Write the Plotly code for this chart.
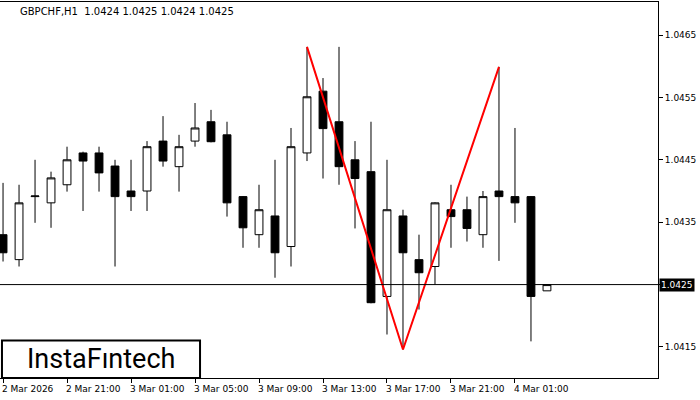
import plotly.graph_objects as go

opens  = [1.0433,1.0429,1.04391,1.04381,1.0441,1.04461,1.04461,1.0444,1.0440,1.0440,1.0448,1.04439,1.0448,1.04511,1.0449,1.04391,1.0433,1.0436,1.04311,1.04461,1.0456,1.04511,1.0445,1.04431,1.04231,1.0436,1.0429,1.04279,1.0437,1.0437,1.0433,1.0440,1.04391,1.04391,1.0424]
highs  = [1.04413,1.0441,1.0445,1.04431,1.04471,1.04463,1.04471,1.0445,1.0445,1.0448,1.0452,1.0449,1.04541,1.0453,1.04511,1.04392,1.0441,1.0445,1.04501,1.04631,1.04581,1.04631,1.0448,1.04511,1.0445,1.0437,1.0433,1.04382,1.0441,1.04391,1.0440,1.04599,1.04501,1.04392,1.0425]
lows   = [1.04287,1.04279,1.04349,1.04341,1.04399,1.04368,1.04399,1.04279,1.04368,1.04368,1.04439,1.04399,1.04471,1.04478,1.04359,1.04309,1.04309,1.04261,1.04279,1.04448,1.0442,1.0441,1.0434,1.0422,1.0417,1.04146,1.0421,1.0425,1.04309,1.04319,1.04309,1.04288,1.04349,1.04159,1.0424]
closes = [1.04301,1.04381,1.04392,1.04421,1.0445,1.04448,1.04429,1.04391,1.04391,1.04471,1.04448,1.04471,1.04501,1.04479,1.04381,1.04341,1.0437,1.04301,1.04471,1.04551,1.0450,1.04439,1.0442,1.04221,1.0437,1.04301,1.04269,1.04381,1.04359,1.0434,1.04391,1.04391,1.04381,1.04231,1.0425]

pattern_idx = [19, 25, 31]
pattern_val = [1.04631, 1.04146, 1.04599]

xtick_idx = [0, 4, 8, 12, 16, 20, 24, 28, 32]
xtick_lbl = ["2 Mar 2026","2 Mar 21:00","3 Mar 01:00","3 Mar 05:00","3 Mar 09:00",
             "3 Mar 13:00","3 Mar 17:00","3 Mar 21:00","4 Mar 01:00"]
ytick_vals = [1.0415,1.0425,1.0435,1.0445,1.0455,1.0465]
current = 1.0425

x = list(range(len(opens)))
fig = go.Figure()
fig.add_trace(go.Candlestick(x=x, open=opens, high=highs, low=lows, close=closes,
    increasing=dict(fillcolor="white", line=dict(color="black", width=1)),
    decreasing=dict(fillcolor="black", line=dict(color="black", width=1)),
    whiskerwidth=0, showlegend=False, hoverinfo="skip"))
fig.add_trace(go.Scatter(x=pattern_idx, y=pattern_val, mode="lines",
    line=dict(color="#ff0000", width=2), showlegend=False, hoverinfo="skip"))

fig.add_shape(type="line", xref="paper", yref="y", x0=0, x1=1, y0=current, y1=current,
              line=dict(color="black", width=1))

fig.update_layout(
    width=700, height=400, margin=dict(l=0, r=42, t=2, b=22, autoexpand=False),
    paper_bgcolor="white", plot_bgcolor="white",
    font=dict(family="DejaVu Sans", size=10, color="black"),
    xaxis=dict(range=[-0.19, 40.94], autorange=False, rangeslider=dict(visible=False), showgrid=False,
               zeroline=False, tickvals=xtick_idx, ticktext=[""]*len(xtick_idx),
               ticks="outside", ticklen=4, tickcolor="black", automargin=False,
               showline=True, linecolor="black", mirror=True),
    yaxis=dict(range=[1.041003, 1.047029], autorange=False, side="right", showgrid=False, zeroline=False,
               tickvals=ytick_vals,
               ticktext=["" if abs(v - current) < 1e-9 else f"{v:.4f}" for v in ytick_vals],
               ticks="outside", ticklen=4, tickcolor="black", automargin=False,
               showline=True, linecolor="black", mirror=True,
               tickfont=dict(size=9)),
)
for i, t in zip(xtick_idx, xtick_lbl):
    fig.add_annotation(x=i, y=0, xref="x", yref="paper", yanchor="top", xanchor="left",
                       text=t, showarrow=False, yshift=-4, xshift=-3, font=dict(size=9))
fig.add_annotation(x=1, y=current, xref="paper", yref="y", xanchor="left", yanchor="middle",
                   text=f"{current:.4f}",
                   showarrow=False, bgcolor="black", font=dict(color="white", size=9),
                   xshift=1, borderpad=1)
fig.add_annotation(x=0.028, y=0.995, xref="paper", yref="paper", xanchor="left", yanchor="top",
                   text="GBPCHF,H1  1.0424 1.0425 1.0424 1.0425", showarrow=False,
                   font=dict(size=10))
fig.add_shape(type="rect", xref="paper", yref="paper", x0=0.003, x1=0.304, y0=0.0, y1=0.1,
              fillcolor="white", line=dict(color="black", width=2))
fig.add_annotation(x=0.153, y=0.05, xref="paper", yref="paper", xanchor="center", yanchor="middle",
                   text="InstaFıntech",
                   showarrow=False, font=dict(family="Roboto", size=27, color="black"))
fig.write_html("out.html", config={"displayModeBar": False},
               post_script="document.body.style.margin='0';")
